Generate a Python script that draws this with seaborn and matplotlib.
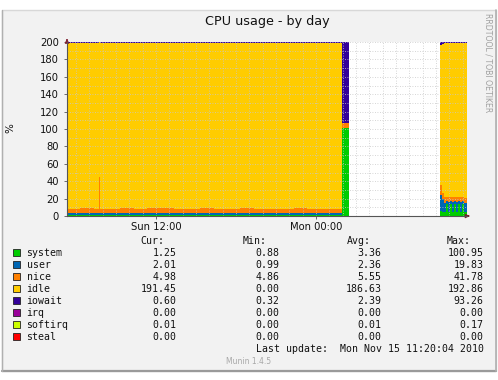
import numpy as np
import matplotlib
matplotlib.use("Agg")
import matplotlib.pyplot as plt
import seaborn as sns
from matplotlib.patches import Rectangle
from matplotlib.lines import Line2D

# ---------------- data ----------------
# time in hours since Sun 00:00 (start of each sample)
time_h = [5.33, 6.33, 7.33, 7.72, 7.80, 8.33, 9.33, 10.33, 11.33, 12.33, 13.33,
          14.33, 15.33, 16.33, 17.33, 18.33, 19.33, 20.33, 21.33, 22.33, 23.33,
          24.33, 25.33, 25.95, 26.45, 33.30, 33.45, 33.60, 33.75, 33.90, 34.05,
          34.20, 34.35, 34.50, 34.65, 34.80, 34.95, 35.10, 35.33]
nan = float("nan")
system = [1.3, 1.2, 1.3, 1.3, 1.2, 1.1, 1.3, 1.2, 1.2, 1.4, 1.2, 1.1, 1.3, 1.2, 1.2,
          1.3, 1.2, 1.1, 1.3, 1.2, 1.3, 1.2, 1.2, 100.9, nan,
          6.0, 5.0, 4.5, 14.0, 4.5, 14.0, 4.5, 14.0, 4.5, 14.0, 4.5, 14.0, 4.5, 4.5]
user = [2.1, 2.0, 2.2, 2.3, 2.0, 1.9, 2.1, 2.0, 2.2, 2.0, 1.9, 2.1, 2.0, 2.2, 2.1,
        2.0, 1.9, 2.1, 2.0, 2.2, 2.0, 2.1, 2.0, 0.6, nan,
        18.0, 14.0, 11.0, 3.0, 12.0, 3.0, 12.0, 3.0, 12.0, 3.0, 12.0, 3.0, 11.0, 11.0]
nice = [5.2, 5.6, 5.0, 41.8, 5.4, 5.1, 5.5, 5.0, 5.3, 5.6, 5.0, 5.2, 5.4, 5.0, 5.1,
        5.5, 5.2, 5.0, 5.3, 5.6, 5.1, 5.2, 5.0, 5.0, nan,
        12.0, 8.0, 6.0, 5.0, 5.5, 5.0, 5.5, 5.0, 5.5, 5.0, 5.5, 5.0, 5.0, 5.0]
idle = [190.8, 190.6, 190.9, 154.1, 190.8, 191.3, 190.5, 191.2, 190.7, 190.4, 191.3,
        191.0, 190.7, 191.0, 191.0, 190.6, 191.1, 191.2, 190.8, 190.4, 191.0, 190.9,
        191.2, 0.0, nan,
        160.0, 171.0, 177.5, 177.4, 177.4, 177.4, 177.4, 177.4, 177.4, 177.4, 177.4,
        177.4, 178.9, 178.9]
iowait = [0.6, 0.6, 0.6, 0.5, 0.6, 0.6, 0.6, 0.6, 0.6, 0.6, 0.6, 0.6, 0.6, 0.6, 0.6,
          0.6, 0.6, 0.6, 0.6, 0.6, 0.6, 0.6, 0.6, 93.3, nan,
          4.0, 2.0, 1.0, 0.6, 0.6, 0.6, 0.6, 0.6, 0.6, 0.6, 0.6, 0.6, 0.6, 0.6]
irq = [0.0] * 24 + [nan] + [0.0] * 14
softirq = [0.01] * 24 + [nan] + [0.01] * 14
steal = [0.0] * 24 + [nan] + [0.0] * 14

series_names = ["system", "user", "nice", "idle", "iowait", "irq", "softirq", "steal"]
series_vals = [system, user, nice, idle, iowait, irq, softirq, steal]
series_colors = ["#00CC00", "#0066B3", "#FF8000", "#FFCC00", "#330099", "#990099",
                 "#CCFF00", "#FF0000"]
cur_vals = ["1.25", "2.01", "4.98", "191.45", "0.60", "0.00", "0.01", "0.00"]
min_vals = ["0.88", "0.99", "4.86", "0.00", "0.32", "0.00", "0.00", "0.00"]
avg_vals = ["3.36", "2.36", "5.55", "186.63", "2.39", "0.00", "0.01", "0.00"]
max_vals = ["100.95", "19.83", "41.78", "192.86", "93.26", "0.00", "0.17", "0.00"]
x_tick_pos = [12, 24]
x_tick_labels = ["Sun 12:00", "Mon 00:00"]
y_ticks = list(range(0, 201, 20))

# ---------------- figure ----------------
sns.set_style("white")
plt.rcParams["font.family"] = ["DejaVu Sans"]
W, H = 498, 380
fig = plt.figure(figsize=(W / 100, H / 100), dpi=100, facecolor="white")

def fx(x):
    return x / W

def fy(y):
    return 1 - y / H

# outer munin frame
fig.patches.append(Rectangle((fx(2), fy(371)), fx(494), 361 / H, transform=fig.transFigure,
                             facecolor="#F2F2F2", edgecolor="#D8D8D8", lw=1.0, zorder=-5))
fig.add_artist(Line2D([fx(2), fx(496)], [fy(371), fy(371)], color="#9A9A9A", lw=1.6, zorder=-4))
fig.add_artist(Line2D([fx(496), fx(496)], [fy(10), fy(371)], color="#B0B0B0", lw=1.2, zorder=-4))
fig.add_artist(Line2D([fx(2), fx(2)], [fy(10), fy(371)], color="#B0B0B0", lw=1.0, zorder=-4))

ax = fig.add_axes([fx(67), fy(216), 400 / W, 174 / H])
ax.set_zorder(2)
ax.set_facecolor("white")

t = np.array(time_h)
widths = np.diff(t)
bottom = np.zeros(len(t) - 1)
for name, vals, col in zip(series_names, series_vals, series_colors):
    v = np.array(vals[:-1], dtype=float)
    ax.bar(t[:-1], v, width=widths, bottom=bottom, align="edge", color=col,
           linewidth=0, antialiased=False, zorder=1)
    bottom = bottom + np.nan_to_num(v)

ax.set_xlim(5.333, 35.333)
ax.set_ylim(0, 200)

# grid (drawn over the data, like rrdtool)
for h in range(6, 36):
    ax.axvline(h, color="#C8C8C8", lw=0.6, ls=(0, (1, 2)), zorder=3)
for yv in range(10, 201, 10):
    ax.axhline(yv, color="#C8C8C8", lw=0.6, ls=(0, (1, 2)), zorder=3)

for s in ["top", "right"]:
    ax.spines[s].set_visible(False)
for s in ["left", "bottom"]:
    ax.spines[s].set_color("#555555")
    ax.spines[s].set_linewidth(0.8)
    ax.spines[s].set_zorder(4)

ax.set_yticks(y_ticks)
ax.set_yticklabels([str(v) for v in y_ticks], fontsize=7.2, color="#111111")
ax.set_xticks(x_tick_pos)
ax.set_xticklabels(x_tick_labels, fontsize=7.2, color="#111111")
ax.tick_params(axis="y", length=2, width=0.6, color="#555555", pad=4, left=True)
ax.tick_params(axis="x", length=2, width=0.6, color="#555555", pad=2, bottom=True)

# axis arrows
ax.annotate("", xy=(35.75, 0), xytext=(35.2, 0), xycoords="data",
            arrowprops=dict(arrowstyle="-|>", color="#7F1F2F", lw=0.8, mutation_scale=6),
            annotation_clip=False)
ax.annotate("", xy=(5.333, 207), xytext=(5.333, 199), xycoords="data",
            arrowprops=dict(arrowstyle="-|>", color="#7F1F2F", lw=0.8, mutation_scale=6),
            annotation_clip=False)

# titles / labels
fig.text(fx(267), fy(21.5), "CPU usage - by day", ha="center", va="center",
         fontsize=9.2, color="#111111")
fig.text(fx(10), fy(128), "%", ha="center", va="center", rotation=90,
         fontsize=7.5, color="#111111")
fig.text(fx(487.5), fy(13), "RRDTOOL / TOBI OETIKER", ha="center", va="top",
         rotation=270, fontsize=5.6, color="#A0A0A0")

# legend table
mono = "DejaVu Sans Mono"
fs = 7.1
hy = 240.7
for label, xl in zip(["Cur:", "Min:", "Avg:", "Max:"], [140, 243, 346.5, 446.5]):
    fig.text(fx(xl), fy(hy), label, ha="left", va="center", fontsize=fs,
             family=mono, color="#111111")
for i, name in enumerate(series_names):
    yc = 252.7 + 12 * i
    fig.patches.append(Rectangle((fx(13), fy(yc + 3.5)), 7 / W, 7 / H,
                                 transform=fig.transFigure, facecolor=series_colors[i],
                                 edgecolor="#222222", lw=0.6, zorder=2))
    fig.text(fx(26.5), fy(yc), name, ha="left", va="center", fontsize=fs,
             family=mono, color="#111111")
    for vals, xr in zip([cur_vals, min_vals, avg_vals, max_vals], [176.5, 279.5, 381.5, 483.5]):
        fig.text(fx(xr), fy(yc), vals[i], ha="right", va="center", fontsize=fs,
                 family=mono, color="#111111")

fig.text(fx(483.5), fy(348.7), "Last update:  Mon Nov 15 11:20:04 2010", ha="right",
         va="center", fontsize=fs, family=mono, color="#111111")
fig.text(fx(249), fy(361), "Munin 1.4.5", ha="center", va="center", fontsize=5.5,
         color="#A8A8A8")

fig.savefig("out.png", dpi=100, facecolor="white")
